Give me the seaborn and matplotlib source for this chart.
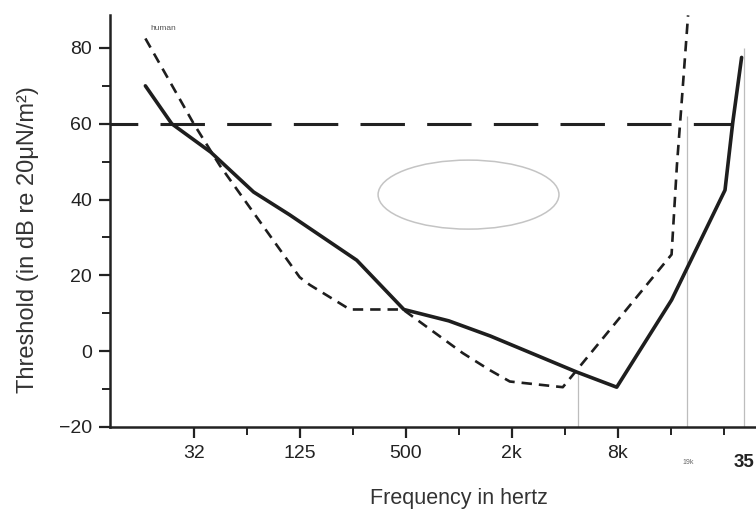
import numpy as np
import pandas as pd
import seaborn as sns
import matplotlib.pyplot as plt
from matplotlib.patches import Ellipse
from matplotlib.ticker import FixedLocator, NullFormatter

# Threshold curves
animal_freq = [17, 24, 40, 70, 112, 270, 500, 900, 1550, 4800, 8100, 16600, 33400, 37000, 41500]
animal_db = [70, 60, 52.5, 42, 36, 24, 11, 8, 4, -5.5, -9.5, 13.5, 42.5, 60.5, 77.5]

human_freq = [17, 32, 45, 128, 146, 247, 494, 1080, 1540, 2000, 4000, 16600, 17800, 19000, 20600]
human_db = [82.5, 60, 49, 19.5, 17.5, 11, 11, -0.5, -5, -8, -9.5, 25.5, 49, 66.5, 88.6]

ref_level = 60
ref_end_freq = 37000

marker_freq = [4900, 20400, 42900]
marker_top = [-5.5, 62, 80]

xtick_pos = [32, 128, 512, 2048, 8192]
xtick_labels = ['32', '125', '500', '2k', '8k']
xminor_pos = [64, 256, 1024, 4096, 16384, 32768]
yticks = [-20, 0, 20, 40, 60, 80]

animal_df = pd.DataFrame({'freq': animal_freq, 'db': animal_db})
human_df = pd.DataFrame({'freq': human_freq, 'db': human_db})

sns.set_style('ticks')
plt.rcParams['font.family'] = ['Liberation Sans', 'DejaVu Sans']
plt.rcParams['lines.scale_dashes'] = False

fig = plt.figure(figsize=(7.56, 5.11), dpi=100)
ax = fig.add_axes([0.1455, 0.1644, 0.8545, 0.8063])

ax.set_xscale('log', base=2)
ax.set_xlim(10.7, 50100)
ax.set_ylim(-20, 88.7)

# faint vertical marker lines
for f, top in zip(marker_freq, marker_top):
    ax.vlines(f, -20, top, color='#bdbdbd', lw=0.9, zorder=1)

# 60 dB reference line
ax.hlines(ref_level, 10.7, ref_end_freq, color='#222222', lw=2.2,
          linestyles=[(12, (32, 16))], zorder=2)

sns.lineplot(data=animal_df, x='freq', y='db', ax=ax, color='#1e1e1e',
             lw=2.6, estimator=None, sort=False, zorder=3)
sns.lineplot(data=human_df, x='freq', y='db', ax=ax, color='#1e1e1e',
             lw=1.9, estimator=None, sort=False, linestyle=(0, (7.5, 5)), zorder=3)

ax.text(18.2, 85.0, 'human', fontsize=6, color='#555555', ha='left', va='center')

# gray ellipse annotation (axes fraction)
ell = Ellipse((0.555, 0.564), 0.280, 0.1675, transform=ax.transAxes,
              fill=False, edgecolor='#c4c4c4', lw=1.1)
ax.add_patch(ell)

ax.xaxis.set_major_locator(FixedLocator(xtick_pos))
ax.set_xticklabels(xtick_labels)
ax.xaxis.set_minor_locator(FixedLocator(xminor_pos))
ax.xaxis.set_minor_formatter(NullFormatter())
ax.set_yticks(yticks)
ax.set_yticks([-10, 10, 30, 50, 70], minor=True)

ax.tick_params(which='major', length=8, width=1.6, color='#222222', labelsize=14,
               labelcolor='#222222', pad=5)
ax.tick_params(which='minor', length=6, width=1.4, color='#222222')

trans = ax.get_xaxis_transform()
ax.text(20600, -0.085, '19k', transform=trans, fontsize=5, color='#666666',
        ha='center', va='center')
ax.text(37200, -0.085, '35', transform=trans, fontsize=13.5, fontweight='bold',
        color='#222222', ha='left', va='center')

for side in ['top', 'right']:
    ax.spines[side].set_visible(False)
for side in ['left', 'bottom']:
    ax.spines[side].set_linewidth(1.8)
    ax.spines[side].set_color('#222222')

ax.set_xlabel('Frequency in hertz', fontsize=15.5, color='#333333')
ax.xaxis.set_label_coords(0.540, -0.148)
ax.set_ylabel('Threshold (in dB re 20\u03bcN/m\u00b2)', fontsize=17, color='#333333')
ax.yaxis.set_label_coords(-0.110, 0.454)

fig.savefig('out.png', dpi=100)
